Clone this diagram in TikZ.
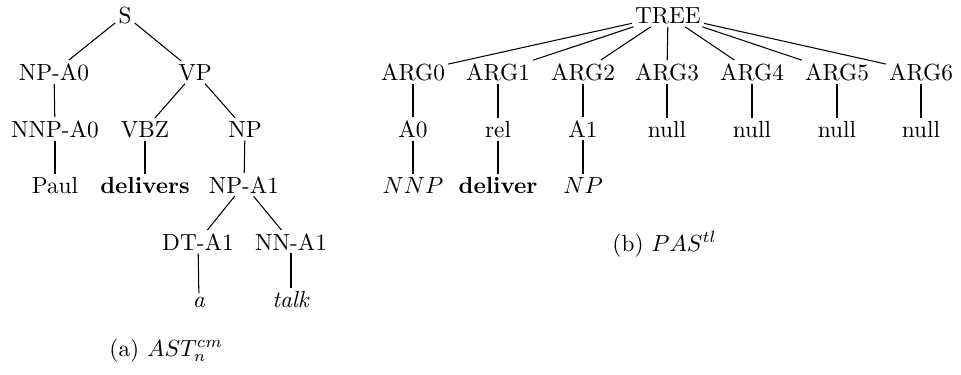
\documentclass[tikz,border=0pt]{standalone}
\begin{document}
\begin{tikzpicture}[x=0.429pt,y=-0.429pt,
  tn/.style={anchor=base,inner sep=1.2pt},
  edge/.style={draw=black,line width=0.45pt}]
\useasboundingbox (0,0) rectangle (961,374);
% left tree
\node[tn] (S) at (125,23) {S};
\node[tn] (NPA0) at (54,80) {NP-A0};
\node[tn] (VP) at (195,80) {VP};
\node[tn] (NNPA0) at (55,137) {NNP-A0};
\node[tn] (VBZ) at (145,137) {VBZ};
\node[tn] (NP) at (245,137) {NP};
\node[tn] (Paul) at (55,193) {Paul};
\node[tn] (delivers) at (145,193) {\textbf{delivers}};
\node[tn] (NPA1) at (244,193) {NP-A1};
\node[tn] (DTA1) at (198,250) {DT-A1};
\node[tn] (NNA1) at (291,250) {NN-A1};
\node[tn] (a) at (199,307) {\textit{a}};
\node[tn] (talk) at (291,307) {\textit{talk}};
\node[anchor=base west,inner sep=0pt] (capa) at (109,356) {(a) $AST_n^{cm}$};
\draw[edge] (S) -- (NPA0);
\draw[edge] (S) -- (VP);
\draw[edge] (NPA0) -- (NNPA0);
\draw[edge] (NNPA0) -- (Paul);
\draw[edge] (VP) -- (VBZ);
\draw[edge] (VP) -- (NP);
\draw[edge] (VBZ) -- (delivers);
\draw[edge] (NP) -- (NPA1);
\draw[edge] (NPA1) -- (DTA1);
\draw[edge] (NPA1) -- (NNA1);
\draw[edge] (DTA1) -- (a);
\draw[edge] (NNA1) -- (talk);
% right tree
\node[tn] (TREE) at (668,23) {TREE};
\node[tn] (ARG0) at (413,80) {ARG0};
\node[tn] (ARG1) at (498,80) {ARG1};
\node[tn] (ARG2) at (583,80) {ARG2};
\node[tn] (ARG3) at (667,80) {ARG3};
\node[tn] (ARG4) at (752,80) {ARG4};
\node[tn] (ARG5) at (837,80) {ARG5};
\node[tn] (ARG6) at (921,80) {ARG6};
\node[tn] (A0) at (413,137) {A0};
\node[tn] (rel) at (498,137) {rel};
\node[tn] (A1) at (583,137) {A1};
\node[tn] (n3) at (667,137) {null};
\node[tn] (n4) at (752,137) {null};
\node[tn] (n5) at (837,137) {null};
\node[tn] (n6) at (921,137) {null};
\node[tn] (NNP) at (413,193) {$NNP$};
\node[tn] (deliver) at (498,193) {\textbf{deliver}};
\node[tn] (NPr) at (583,193) {$NP$};
\node[anchor=base west,inner sep=0pt] (capb) at (612,251) {(b) $PAS^{tl}$};
\foreach \c in {ARG0,ARG1,ARG2,ARG3,ARG4,ARG5,ARG6}{\draw[edge] (TREE) -- (\c);}
\draw[edge] (ARG0) -- (A0);
\draw[edge] (ARG1) -- (rel);
\draw[edge] (ARG2) -- (A1);
\draw[edge] (ARG3) -- (n3);
\draw[edge] (ARG4) -- (n4);
\draw[edge] (ARG5) -- (n5);
\draw[edge] (ARG6) -- (n6);
\draw[edge] (A0) -- (NNP);
\draw[edge] (rel) -- (deliver);
\draw[edge] (A1) -- (NPr);
\end{tikzpicture}
\end{document}
